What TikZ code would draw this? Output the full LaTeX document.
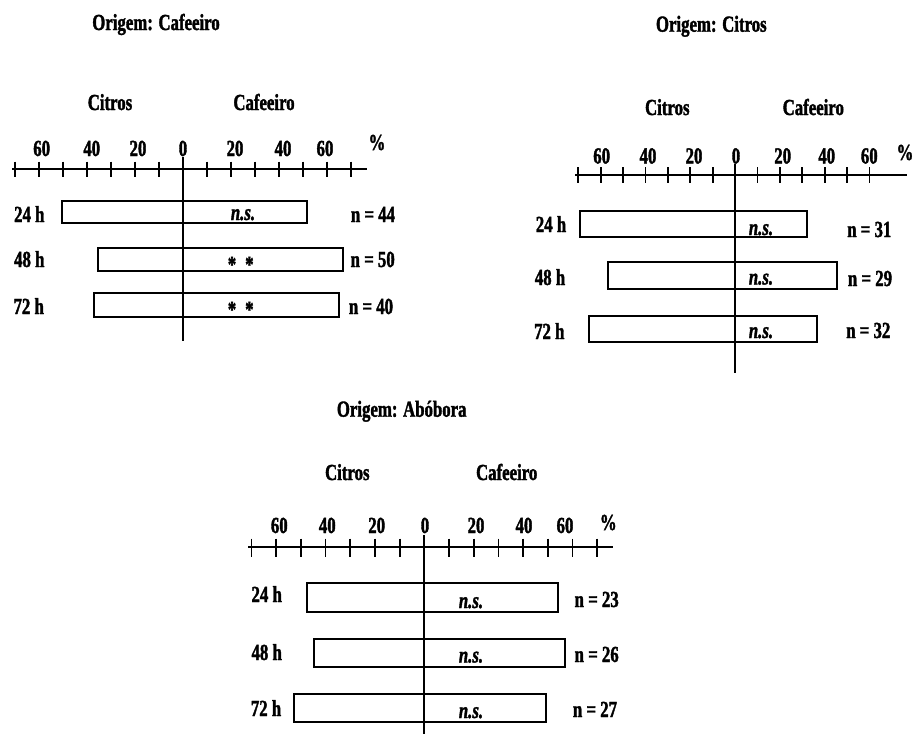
\documentclass[tikz,border=0pt]{standalone}
\usepackage{fontspec}
\setmainfont{Liberation Serif}[FakeStretch=0.73,BoldFeatures={FakeBold=1.6},BoldItalicFeatures={FakeBold=1.6}]
\begin{document}
\begin{tikzpicture}[x=1pt,y=-1pt,
  txt/.style={anchor=base,inner sep=0pt,font=\fontsize{23}{27}\selectfont\bfseries},
  ital/.style={txt,font=\fontsize{23}{27}\selectfont\bfseries\itshape},
  axisline/.style={line width=2.2pt},
  tickline/.style={line width=1.8pt},
  zeroline/.style={line width=1.7pt},
  barbox/.style={line width=2pt}]
\useasboundingbox (0,0) rectangle (913,734);

% ---------------- Panel 1: Origem: Cafeeiro ----------------
\node[txt] (t1) at (156,30) {Origem: Cafeeiro};
\node[txt] (c1) at (110,110) {Citros};
\node[txt] (f1) at (264,110) {Cafeeiro};
\draw[axisline] (12,169) -- (367,169);
\foreach \i in {-7,...,7} \draw[tickline] ({182.7+24*\i},161.5) -- ({182.7+24*\i},176.5);
\draw[zeroline] (182.7,157) -- (182.7,341);
\foreach \x/\l in {41.7/60,91.7/40,138/20,183/0,235/20,283/40,325/60}
  \node[txt] at (\x,156) {\l};
\node[txt] (p1) at (377,150) {\%};
\draw[barbox] (62.3,200.5) rectangle (306.7,223.3);
\draw[barbox] (98.3,247.7) rectangle (343.3,270.7);
\draw[barbox] (94,292.7) rectangle (339,316.7);
\node[txt] (a24) at (29.3,222) {24 h};
\node[txt] (a48) at (29.3,267) {48 h};
\node[txt] (a72) at (28.7,314) {72 h};
\node[ital] (as1) at (243,220) {n.s.};
\node[txt] (as2) at (240.7,272) {*\hspace{9pt}*};
\node[txt] (as3) at (240.7,317) {*\hspace{9pt}*};
\node[txt] (an1) at (373,222) {n = 44};
\node[txt] (an2) at (372.7,267) {n = 50};
\node[txt] (an3) at (371,314) {n = 40};

% ---------------- Panel 2: Origem: Citros ----------------
\node[txt] (t2) at (711.3,31.7) {Origem: Citros};
\node[txt] (c2) at (667.3,115) {Citros};
\node[txt] (f2) at (813.3,115) {Cafeeiro};
\draw[axisline] (575,175) -- (906.7,175);
\foreach \i in {-7,...,6} \draw[tickline] ({735+22.4*\i},167) -- ({735+22.4*\i},183);
\draw[zeroline] (735,164) -- (735,373.3);
\foreach \x/\l in {601.7/60,648/40,694/20,736/0,782.7/20,826.7/40,869.3/60}
  \node[txt] at (\x,163.5) {\l};
\node[txt] (p2) at (905,160) {\%};
\draw[barbox] (580,211) rectangle (807.3,236.7);
\draw[barbox] (608.3,261.7) rectangle (836.7,289);
\draw[barbox] (589,316) rectangle (816.7,342.3);
\node[txt] (b24) at (551,232) {24 h};
\node[txt] (b48) at (550,285) {48 h};
\node[txt] (b72) at (549.3,339) {72 h};
\node[ital] (bs1) at (761,235) {n.s.};
\node[ital] (bs2) at (761,284.5) {n.s.};
\node[ital] (bs3) at (761,338) {n.s.};
\node[txt] (bn1) at (869.3,237) {n = 31};
\node[txt] (bn2) at (870,286) {n = 29};
\node[txt] (bn3) at (868.3,338) {n = 32};

% ---------------- Panel 3: Origem: Abóbora ----------------
\node[txt] (t3) at (401.7,416.7) {Origem: Abóbora};
\node[txt] (c3) at (347.3,480) {Citros};
\node[txt] (f3) at (506.7,480) {Cafeeiro};
\draw[axisline] (248.3,547.3) -- (613.3,547.3);
\foreach \i in {-7,...,7} \draw[tickline] ({424.3+24.7*\i},538.5) -- ({424.3+24.7*\i},556.5);
\draw[zeroline] (424.3,535) -- (424.3,734);
\foreach \x/\l in {279.3/60,327.3/40,376.7/20,425/0,476/20,524/40,565/60}
  \node[txt] at (\x,533) {\l};
\node[txt] (p3) at (608.3,530) {\%};
\draw[barbox] (306.7,583.3) rectangle (557.7,611.7);
\draw[barbox] (314,639) rectangle (565,667.3);
\draw[barbox] (294.3,694) rectangle (546,722.3);
\node[txt] (c24) at (266.7,602) {24 h};
\node[txt] (c48) at (266.7,660) {48 h};
\node[txt] (c72) at (266,716) {72 h};
\node[ital] (cs1) at (471,608) {n.s.};
\node[ital] (cs2) at (471,662.5) {n.s.};
\node[ital] (cs3) at (471,718) {n.s.};
\node[txt] (cn1) at (596.7,607) {n = 23};
\node[txt] (cn2) at (596.7,662) {n = 26};
\node[txt] (cn3) at (595,717) {n = 27};
\end{tikzpicture}
\end{document}
